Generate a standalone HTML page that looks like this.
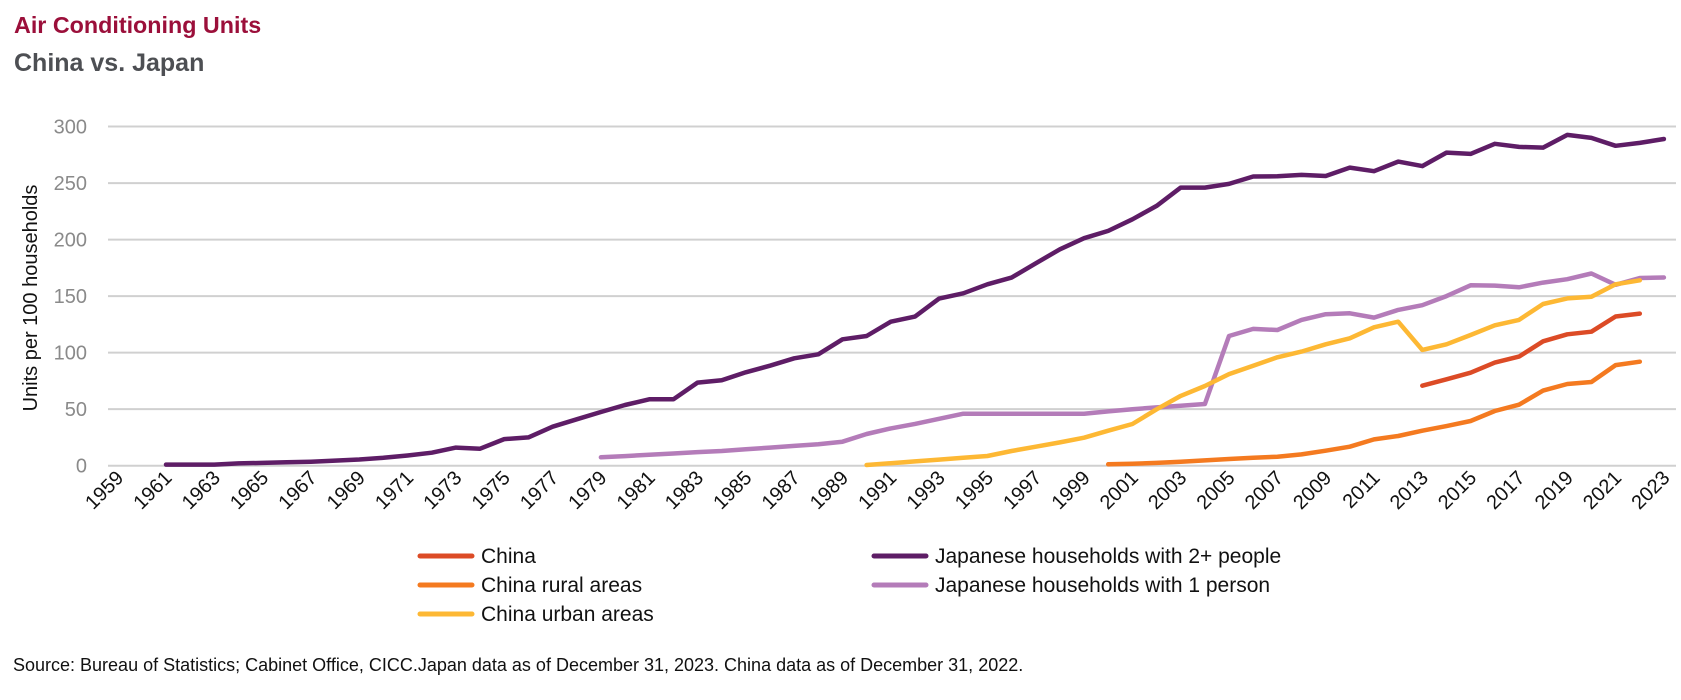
<!DOCTYPE html>
<html><head><meta charset="utf-8"><style>
body{margin:0;background:#fff;width:1681px;height:695px;overflow:hidden;font-family:"Liberation Sans",sans-serif}
svg text{font-family:"Liberation Sans Narrow","Liberation Sans",sans-serif}
</style></head><body>
<svg id="chart" width="1681" height="695" xmlns="http://www.w3.org/2000/svg">
<text x="14" y="33" font-size="23.3" font-weight="bold" fill="#9b0f3a" style="font-family:'Liberation Sans',sans-serif">Air Conditioning Units</text>
<text x="14" y="71" font-size="25" font-weight="bold" fill="#4d4f53" style="font-family:'Liberation Sans',sans-serif">China vs. Japan</text>
<text transform="translate(37,298) rotate(-90)" text-anchor="middle" font-size="20" fill="#111">Units per 100 households</text>
<g id="grid"></g><g id="series"></g><g id="xlabels"></g>
<g font-size="21" fill="#111">
<line x1="420" y1="556" x2="472" y2="556" stroke="#dc4b26" stroke-width="5" stroke-linecap="round"/><text x="481" y="563">China</text>
<line x1="420" y1="585" x2="472" y2="585" stroke="#f47a20" stroke-width="5" stroke-linecap="round"/><text x="481" y="592">China rural areas</text>
<line x1="420" y1="614" x2="472" y2="614" stroke="#fdb834" stroke-width="5" stroke-linecap="round"/><text x="481" y="621">China urban areas</text>
<line x1="874" y1="556" x2="926" y2="556" stroke="#5e1d66" stroke-width="5" stroke-linecap="round"/><text x="935" y="563">Japanese households with 2+ people</text>
<line x1="874" y1="585" x2="926" y2="585" stroke="#b47cb9" stroke-width="5" stroke-linecap="round"/><text x="935" y="592">Japanese households with 1 person</text>
</g>
<text x="13" y="671" font-size="18" fill="#111">Source: Bureau of Statistics; Cabinet Office, CICC.Japan data as of December 31, 2023. China data as of December 31, 2022.</text>
</svg>
<script>
const yTicks=[0,50,100,150,200,250,300];
const japan2Start=1961;
const japan2=[1,1,1,2,2.5,3,3.5,4.5,5.5,7,9,11.5,16,15,23.5,25,34.5,41,47.5,53.7,58.7,58.7,73.5,75.5,82.6,88.5,95,98.5,111.8,114.7,127.4,131.9,147.8,152.5,160.5,166.4,179,191.4,201.2,207.7,218,229.8,246,246,249.3,255.8,256,257.2,256.3,263.7,260.5,269,265,277,275.8,284.7,282,281.4,292.6,290,283,285.5,289];
const japan1Start=1979;
const japan1=[7.4,8.5,9.7,10.8,12,13,14.5,16,17.5,19,21.2,28,33,37,41.5,46,46,46,46,46,46,48,50,51.6,53,54.6,114.7,121,120,129,134,134.8,131,137.8,142,150,159.6,159.3,157.8,162,165,170,160,166,166.5];
const urbanStart=1990;
const urban=[0.6,2.2,3.8,5.4,7,8.6,13,16.8,20.6,24.8,31,36.9,49.9,61.7,70.5,81,88.5,95.9,100.9,107.4,112.7,122.4,127.4,102.4,107.4,115.6,124.2,129,143,148,149.5,160.5,164];
const ruralStart=2000;
const rural=[1.2,1.8,2.5,3.5,4.7,5.9,7,8,10,13.3,16.8,23.3,26.3,31,35,39.5,48.4,54,66.4,72.3,74,89,92];
const chinaStart=2013;
const china=[70.8,76.4,82.3,91.2,96.5,110,116.2,118.5,132,134.5];
const xLabels=[];for(let y=1959;y<=2023;y+=2)xLabels.push(y);

const NS="http://www.w3.org/2000/svg";
const X=yr=>166+(yr-1961)*24.16;
const Y=v=>465.7-v*1.1305;
const grid=document.getElementById('grid');
yTicks.forEach(t=>{
 const l=document.createElementNS(NS,'line');
 
 
 l.setAttribute('x1',108);l.setAttribute('x2',1676);l.setAttribute('y1',Y(t));l.setAttribute('y2',Y(t));
 l.setAttribute('stroke','#d0d0d0');l.setAttribute('stroke-width','2');grid.appendChild(l);
 const tx=document.createElementNS(NS,'text');
 
 
 tx.setAttribute('x',87);tx.setAttribute('y',Y(t)+7);tx.setAttribute('text-anchor','end');
 tx.setAttribute('font-size','20');tx.setAttribute('fill','#8a8a8a');
 tx.style.fontFamily="'Liberation Sans',sans-serif";
 tx.textContent=t;grid.appendChild(tx);
});
const xl=document.getElementById('xlabels');
xLabels.forEach(yr=>{
 const tx=document.createElementNS(NS,'text');
 
 
 const x=X(yr)+7,y=479;
 tx.setAttribute('transform',`translate(${x},${y}) rotate(-45)`);
 tx.setAttribute('text-anchor','end');tx.setAttribute('font-size','20');tx.setAttribute('fill','#111');
 tx.textContent=yr;xl.appendChild(tx);
});
const ser=document.getElementById('series');
function draw(name,start,vals,color){
 const p=document.createElementNS(NS,'polyline');
 
 
 p.setAttribute('points',vals.map((v,i)=>X(start+i).toFixed(1)+','+Y(v).toFixed(1)).join(' '));
 p.setAttribute('fill','none');p.setAttribute('stroke',color);p.setAttribute('stroke-width','4.5');
 p.setAttribute('stroke-linejoin','round');p.setAttribute('stroke-linecap','round');
 ser.appendChild(p);
}
draw('series-japan-1-person',japan1Start,japan1,'#b47cb9');
draw('series-china-urban',urbanStart,urban,'#fdb834');
draw('series-china-rural',ruralStart,rural,'#f47a20');
draw('series-china',chinaStart,china,'#dc4b26');
draw('series-japan-2plus',japan2Start,japan2,'#5e1d66');
</script>
</body></html>
